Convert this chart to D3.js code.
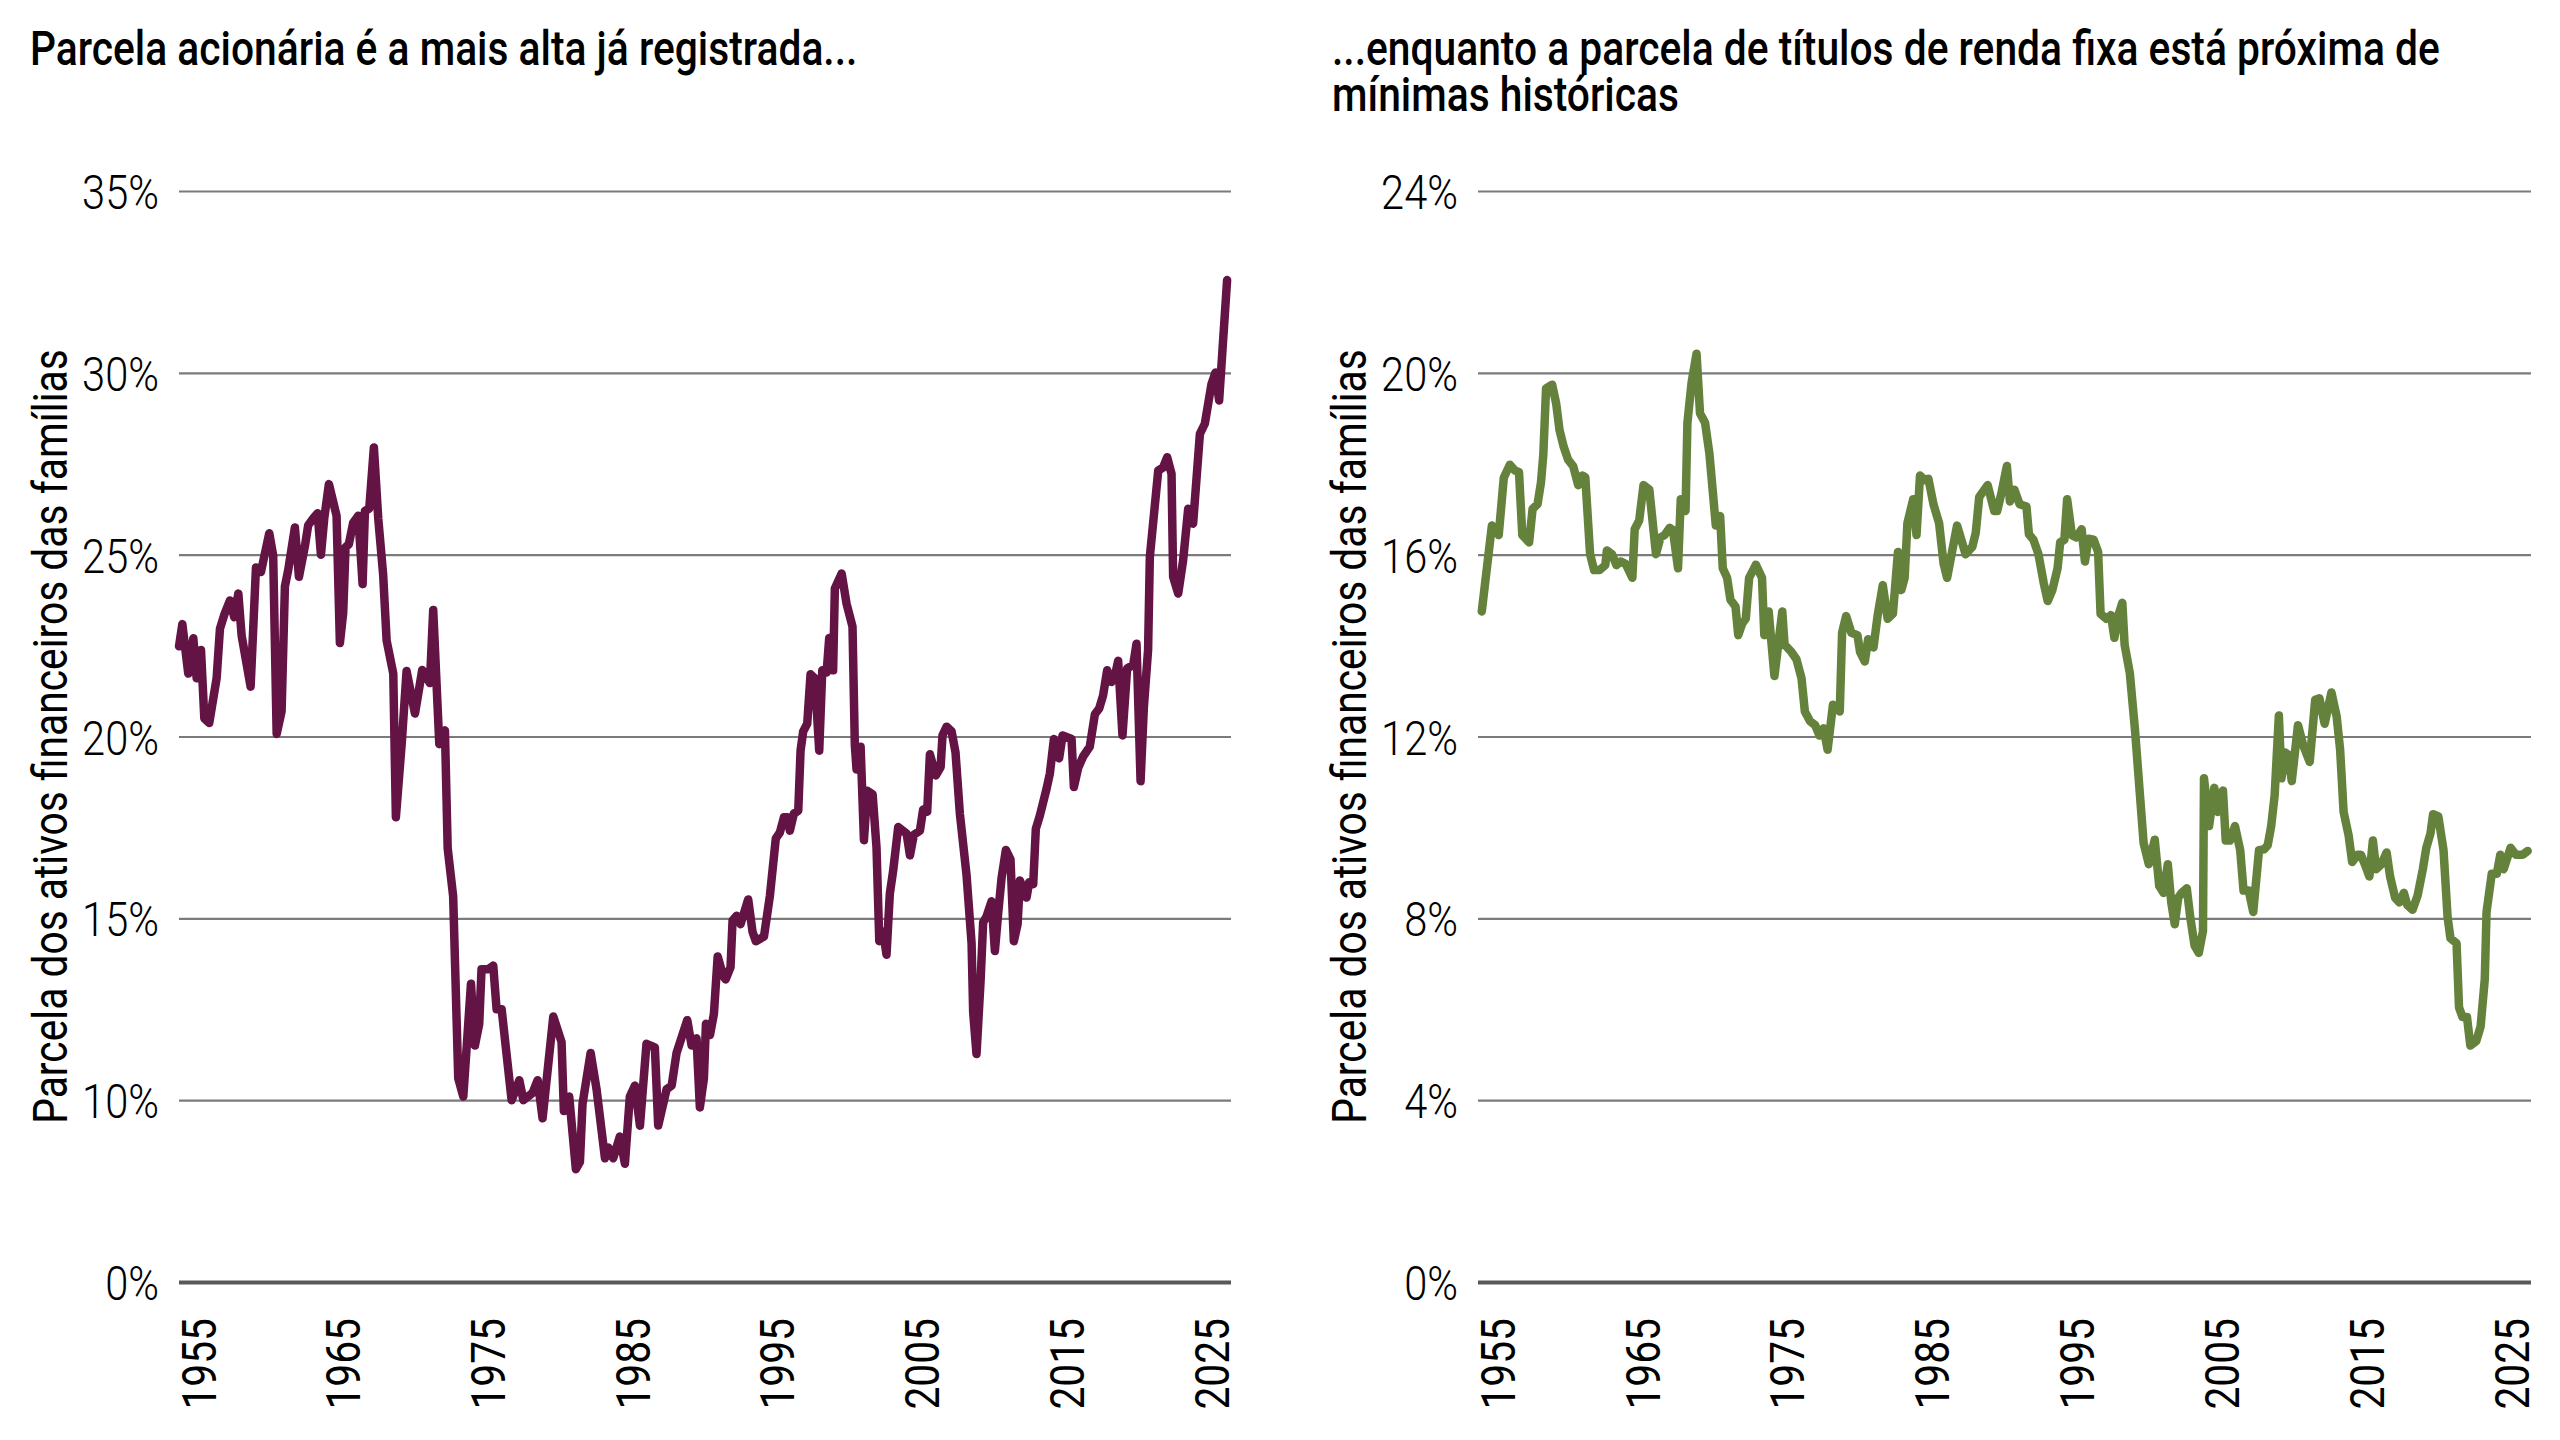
<!DOCTYPE html>
<html>
<head>
<meta charset="utf-8">
<script src="https://cdn.jsdelivr.net/npm/d3@7"></script>
<style>
	html, body { margin: 0; padding: 0; background: #fff; }
</style>
</head>
<body>
<div id="chart"></div>
<script>
// years are read at the chart's own horizontal positions
const eqYears = [
	1953.69, 1953.92, 1954.33, 1954.68, 1954.91, 1955.21, 1955.44, 1955.78, 1956.29, 1956.52,
	1956.82, 1957.21, 1957.51, 1957.79, 1958.02, 1958.64, 1959.01, 1959.35, 1959.93, 1960.2,
	1960.44, 1960.78, 1961.01, 1961.24, 1961.7, 1961.98, 1962.39, 1962.62, 1962.97, 1963.27,
	1963.5, 1963.73, 1964.05, 1964.58, 1964.81, 1965.04, 1965.2, 1965.43, 1965.73, 1966.08,
	1966.38, 1966.54, 1966.84, 1967.16, 1967.46, 1967.8, 1968.04, 1968.5, 1968.68, 1969.08,
	1969.42, 1970.0, 1970.5, 1971.03, 1971.26, 1971.68, 1972.07, 1972.26, 1972.64, 1972.99,
	1973.34, 1973.87, 1974.14, 1974.44, 1974.6, 1975.06, 1975.41, 1975.64, 1975.99, 1976.68,
	1977.21, 1977.49, 1978.13, 1978.48, 1978.82, 1979.56, 1980.13, 1980.29, 1980.66, 1981.12,
	1981.4, 1981.58, 1982.14, 1982.55, 1983.13, 1983.36, 1983.7, 1984.16, 1984.51, 1984.85,
	1985.2, 1985.55, 1986.0, 1986.58, 1986.81, 1987.39, 1987.74, 1988.08, 1988.82, 1989.12,
	1989.46, 1989.69, 1989.97, 1990.11, 1990.39, 1990.66, 1990.92, 1991.3, 1991.47, 1991.81,
	1991.95, 1992.23, 1992.5, 1993.03, 1993.33, 1993.56, 1994.12, 1994.53, 1994.94, 1995.22,
	1995.5, 1995.73, 1995.91, 1996.19, 1996.49, 1996.65, 1996.83, 1997.11, 1997.34, 1997.64,
	1997.94, 1998.15, 1998.45, 1998.63, 1998.9, 1999.02, 1999.49, 1999.83, 2000.24, 2000.4,
	2000.52, 2000.8, 2001.03, 2001.26, 2001.63, 2001.9, 2002.09, 2002.36, 2002.59, 2002.82,
	2003.05, 2003.4, 2003.98, 2004.21, 2004.48, 2004.9, 2005.12, 2005.4, 2005.59, 2006.0,
	2006.33, 2006.46, 2006.74, 2007.09, 2007.36, 2007.66, 2008.12, 2008.47, 2008.58, 2008.81,
	2009.09, 2009.27, 2009.5, 2009.85, 2010.08, 2010.31, 2010.54, 2010.84, 2011.16, 2011.39,
	2011.65, 2011.81, 2012.27, 2012.45, 2012.73, 2012.91, 2013.19, 2013.65, 2013.88, 2014.16,
	2014.52, 2014.76, 2015.38, 2015.54, 2015.84, 2016.18, 2016.64, 2016.99, 2017.29, 2017.56,
	2017.84, 2018.14, 2018.37, 2018.6, 2018.9, 2019.22, 2019.64, 2019.87, 2020.15, 2020.38,
	2020.67, 2020.79, 2021.37, 2021.71, 2021.99, 2022.29, 2022.4, 2022.75, 2023.09, 2023.44,
	2023.78, 2024.25, 2024.59, 2025.05, 2025.33, 2025.58, 2026.13
];
const eqValues = [
	22.48, 23.09, 21.73, 22.7, 21.6, 22.38, 20.5, 20.37, 21.6, 22.96,
	23.35, 23.74, 23.28, 23.93, 22.77, 21.37, 24.65, 24.52, 25.59, 24.97,
	20.07, 20.69, 24.13, 24.58, 25.75, 24.39, 25.23, 25.81, 26.0, 26.14,
	25.0, 26.0, 26.94, 26.07, 22.57, 23.41, 25.2, 25.29, 25.88, 26.07,
	24.19, 26.2, 26.27, 27.95, 26.0, 24.45, 22.64, 21.73, 17.78, 19.79,
	21.8, 20.63, 21.83, 21.47, 23.48, 19.79, 20.17, 16.93, 15.6, 10.6,
	10.1, 13.2, 11.5, 12.1, 13.6, 13.6, 13.7, 12.5, 12.5, 10.0,
	10.55, 10.0, 10.2, 10.55, 9.5, 12.3, 11.6, 9.7, 10.1, 8.1,
	8.3, 9.9, 11.3, 10.3, 8.4, 8.7, 8.4, 9.0, 8.25, 10.1,
	10.4, 9.3, 11.55, 11.45, 9.3, 10.3, 10.4, 11.3, 12.2, 11.5,
	11.7, 9.8, 10.6, 12.1, 11.79, 12.37, 13.95, 13.42, 13.32, 13.66,
	14.94, 15.07, 14.84, 15.52, 14.63, 14.37, 14.5, 15.62, 17.2, 17.36,
	17.78, 17.78, 17.41, 17.88, 17.96, 19.61, 20.14, 20.35, 21.71, 21.6,
	19.61, 21.82, 21.76, 22.71, 21.82, 24.07, 24.48, 23.65, 23.02, 19.77,
	19.09, 19.72, 17.15, 18.51, 18.41, 16.94, 14.37, 14.63, 14.0, 15.68,
	16.31, 17.51, 17.33, 16.73, 17.3, 17.41, 17.99, 17.93, 19.51, 18.93,
	19.16, 20.03, 20.27, 20.14, 19.56, 17.88, 16.2, 14.31, 12.42, 11.27,
	13.26, 14.89, 15.05, 15.47, 14.1, 15.15, 16.1, 16.88, 16.62, 14.37,
	14.84, 16.04, 15.57, 15.99, 15.94, 17.46, 17.83, 18.56, 18.98, 19.93,
	19.4, 20.03, 19.93, 18.61, 19.14, 19.45, 19.72, 20.61, 20.77, 21.13,
	21.82, 21.5, 21.66, 22.08, 20.03, 21.87, 21.97, 22.55, 18.77, 20.82,
	22.39, 24.94, 27.31, 27.4, 27.68, 27.22, 24.39, 23.93, 24.84, 26.26,
	25.85, 28.32, 28.6, 29.69, 30.01, 29.24, 32.55
];

const bondYears = [
	1953.95, 1954.65, 1955.12, 1955.47, 1955.89, 1956.24, 1956.52, 1956.75, 1957.22, 1957.46,
	1957.8, 1958.04, 1958.2, 1958.39, 1958.81, 1959.09, 1959.32, 1959.61, 1959.91, 1960.26,
	1960.61, 1960.91, 1961.1, 1961.43, 1961.71, 1962.08, 1962.48, 1962.59, 1962.94, 1963.25,
	1963.53, 1963.88, 1964.35, 1964.51, 1964.82, 1965.12, 1965.52, 1965.98, 1966.29, 1966.57,
	1966.92, 1967.15, 1967.5, 1967.69, 1968.02, 1968.15, 1968.44, 1968.78, 1969.02, 1969.37,
	1969.67, 1969.95, 1970.11, 1970.41, 1970.59, 1970.89, 1971.12, 1971.47, 1971.66, 1971.94,
	1972.18, 1972.41, 1972.88, 1973.3, 1973.46, 1973.76, 1974.16, 1974.7, 1974.86, 1975.33,
	1975.68, 1976.03, 1976.26, 1976.61, 1976.97, 1977.27, 1977.55, 1977.83, 1978.2, 1978.67,
	1978.83, 1979.11, 1979.47, 1979.89, 1980.07, 1980.4, 1980.63, 1981.0, 1981.28, 1981.64,
	1981.98, 1982.34, 1982.69, 1982.92, 1983.15, 1983.34, 1983.74, 1983.97, 1984.21, 1984.55,
	1984.79, 1985.14, 1985.53, 1985.84, 1986.08, 1986.77, 1987.36, 1987.82, 1988.06, 1988.3,
	1988.88, 1989.34, 1989.54, 1989.85, 1990.21, 1990.42, 1990.73, 1991.09, 1991.56, 1991.73,
	1992.04, 1992.39, 1992.75, 1993.03, 1993.35, 1993.71, 1993.89, 1994.18, 1994.37, 1994.7,
	1995.01, 1995.37, 1995.6, 1995.85, 1996.2, 1996.51, 1996.68, 1997.08, 1997.4, 1997.63,
	1997.94, 1998.18, 1998.34, 1998.7, 1999.06, 1999.41, 1999.65, 2000.01, 2000.42, 2000.73,
	2001.03, 2001.32, 2001.56, 2001.8, 2002.04, 2002.27, 2002.63, 2002.87, 2003.17, 2003.46,
	2003.75, 2003.82, 2004.17, 2004.53, 2004.77, 2005.13, 2005.32, 2005.61, 2005.96, 2006.32,
	2006.55, 2006.91, 2007.22, 2007.62, 2007.98, 2008.22, 2008.46, 2008.7, 2008.99, 2009.17,
	2009.42, 2009.65, 2009.88, 2010.31, 2010.67, 2011.12, 2011.5, 2011.79, 2012.15, 2012.62,
	2012.98, 2013.22, 2013.46, 2013.81, 2014.05, 2014.41, 2014.65, 2015.0, 2015.24, 2015.48,
	2015.71, 2016.07, 2016.43, 2016.67, 2017.02, 2017.31, 2017.62, 2017.86, 2018.22, 2018.57,
	2018.93, 2019.17, 2019.46, 2019.64, 2020.0, 2020.36, 2020.64, 2020.84, 2021.26, 2021.43,
	2021.67, 2021.98, 2022.21, 2022.62, 2022.92, 2023.21, 2023.33, 2023.69, 2024.04, 2024.28,
	2024.51, 2024.99, 2025.35, 2025.82, 2026.17
];
const bondValues = [
	14.75, 16.64, 16.43, 17.69, 17.98, 17.85, 17.82, 16.43, 16.27, 17.01,
	17.11, 17.59, 18.2, 19.66, 19.74, 19.32, 18.74, 18.37, 18.09, 17.95,
	17.53, 17.74, 17.7, 16.01, 15.66, 15.66, 15.77, 16.09, 16.01, 15.77,
	15.85, 15.8, 15.49, 16.56, 16.75, 17.53, 17.43, 16.01, 16.38, 16.43,
	16.59, 16.54, 15.7, 17.22, 16.96, 18.9, 19.79, 20.42, 19.11, 18.9,
	18.22, 17.22, 16.64, 16.85, 15.7, 15.49, 15.01, 14.86, 14.23, 14.49,
	14.59, 15.49, 15.78, 15.49, 14.23, 14.75, 13.33, 14.75, 14.02, 13.86,
	13.7, 13.28, 12.55, 12.34, 12.25, 12.02, 12.18, 11.71, 12.7, 12.55,
	14.28, 14.65, 14.28, 14.23, 13.86, 13.65, 14.14, 13.96, 14.65, 15.33,
	14.59, 14.7, 16.06, 15.22, 15.49, 16.69, 17.22, 16.43, 17.74, 17.64,
	17.67, 17.11, 16.69, 15.8, 15.49, 16.64, 16.01, 16.17, 16.48, 17.27,
	17.53, 16.96, 16.96, 17.38, 17.95, 17.17, 17.43, 17.11, 17.06, 16.45,
	16.33, 16.01, 15.38, 14.98, 15.22, 15.7, 16.27, 16.33, 17.22, 16.43,
	16.38, 16.56, 15.85, 16.35, 16.33, 16.06, 14.7, 14.59, 14.67, 14.17,
	14.7, 14.94, 14.02, 13.39, 12.13, 10.66, 9.66, 9.19, 9.73, 8.71,
	8.56, 9.19, 8.35, 7.87, 8.45, 8.56, 8.66, 8.03, 7.4, 7.24,
	7.72, 11.08, 10.03, 10.87, 10.34, 10.81, 9.71, 9.71, 10.03, 9.5,
	8.61, 8.61, 8.14, 9.5, 9.52, 9.61, 10.03, 10.71, 12.46, 11.08,
	11.65, 11.6, 11.02, 12.25, 11.81, 11.44, 12.81, 12.84, 12.28, 12.97,
	12.44, 11.71, 10.34, 9.82, 9.24, 9.4, 9.4, 9.13, 8.92, 9.71,
	9.08, 9.19, 9.45, 8.92, 8.45, 8.35, 8.56, 8.29, 8.19, 8.5,
	9.08, 9.55, 9.87, 10.29, 10.24, 9.5, 8.03, 7.56, 7.45, 6.04,
	5.83, 5.83, 5.2, 5.3, 5.62, 6.67, 8.14, 8.98, 8.98, 9.4,
	9.08, 9.55, 9.4, 9.4, 9.48
];

const yearTicks     = [1955, 1965, 1975, 1985, 1995, 2005, 2015, 2025];
const eqTicks       = [5, 10, 15, 20, 25, 30, 35];
const eqTickLabels  = ['0%', '10%', '15%', '20%', '25%', '30%', '35%'];
const bondTicks     = [0, 4, 8, 12, 16, 20, 24];
const bondTickLabels = ['0%', '4%', '8%', '12%', '16%', '20%', '24%'];

const eqTitle   = ['Parcela acionária é a mais alta já registrada...'];
const bondTitle = ['...enquanto a parcela de títulos de renda fixa está próxima de', 'mínimas históricas'];
const yLabel    = 'Parcela dos ativos financeiros das famílias';

const W = 2560, H = 1440;
const FONT = 'Roboto, "Liberation Sans", Arial, sans-serif';
const FONT_SIZE = 48;
const plotTop = 191, plotBottom = 1282;
const xDomain = [1953.69, 2026.4];

let svg = d3.select('#chart')
	.append('svg')
	.attr('width', W)
	.attr('height', H);

svg.append('rect').attr('width', W).attr('height', H).attr('fill', '#fff');

// the original uses a condensed face; squeeze Roboto to the same width
let probe = svg.append('text')
	.attr('font-family', FONT)
	.attr('font-size', FONT_SIZE)
	.attr('font-weight', 500)
	.text(bondTitle[0]);
const sx = 1108 / probe.node().getComputedTextLength();
probe.remove();

function drawPanel(cfg){
	let width = cfg.right - cfg.left;

	let x = d3.scaleLinear()
		.domain(xDomain)
		.range([cfg.left, cfg.right]);

	let y = d3.scaleLinear()
		.domain(cfg.yDomain)
		.range([plotBottom, plotTop]);

	let yAxis = d3.axisLeft(y)
		.tickValues(cfg.ticks)
		.tickSize(-width)
		.tickFormat(d => cfg.tickLabels[cfg.ticks.indexOf(d)]);

	let gy = svg.append('g')
		.attr('transform', 'translate(' + cfg.left + ',0)')
		.call(yAxis);

	gy.select('.domain').remove();
	gy.selectAll('.tick line')
		.attr('stroke', d => d === cfg.yDomain[0] ? '#58595b' : '#7b7b7b')
		.attr('stroke-width', d => d === cfg.yDomain[0] ? 4 : 2.2);
	gy.selectAll('.tick text')
		.attr('font-family', FONT)
		.attr('font-size', 49)
		.attr('font-weight', 300)
		.attr('fill', '#000')
		.attr('x', -20 / sx)
		.attr('dy', '0.36em')
		.attr('transform', 'scale(' + sx + ',1)');

	let xAxis = d3.axisBottom(x)
		.tickValues(yearTicks)
		.tickSize(0)
		.tickFormat(d3.format('d'));

	let gx = svg.append('g')
		.attr('transform', 'translate(0,' + plotBottom + ')')
		.call(xAxis);

	gx.select('.domain').remove();
	gx.selectAll('.tick text')
		.attr('font-family', FONT)
		.attr('font-size', FONT_SIZE)
		.attr('fill', '#000')
		.attr('text-anchor', 'end')
		.attr('x', -36 / sx)
		.attr('y', 0)
		.attr('dy', '0.36em')
		.attr('transform', 'rotate(-90) scale(' + sx + ',1)');

	let line = d3.line()
		.x(d => x(d[0]))
		.y(d => y(d[1]));

	svg.append('path')
		.datum(d3.zip(cfg.years, cfg.values))
		.attr('fill', 'none')
		.attr('stroke', cfg.color)
		.attr('stroke-width', 8.5)
		.attr('stroke-linejoin', 'round')
		.attr('stroke-linecap', 'round')
		.attr('d', line);

	let title = svg.append('text')
		.attr('font-family', FONT)
		.attr('font-size', FONT_SIZE)
		.attr('font-weight', 500)
		.attr('fill', '#000')
		.attr('transform', 'translate(' + cfg.titleX + ',65) scale(' + sx + ',1)');

	title.selectAll('tspan')
		.data(cfg.title)
		.enter()
		.append('tspan')
		.attr('x', 0)
		.attr('y', (d, i) => i * 46)
		.text(d => d);

	svg.append('text')
		.attr('font-family', FONT)
		.attr('font-size', FONT_SIZE)
		.attr('fill', '#000')
		.attr('text-anchor', 'middle')
		.attr('transform', 'translate(' + (cfg.left - 112) + ',' + ((plotTop + plotBottom) / 2) + ') rotate(-90) scale(' + sx + ',1)')
		.text(yLabel);
}

drawPanel({
	left: 179, right: 1231,
	yDomain: [5, 35],
	ticks: eqTicks, tickLabels: eqTickLabels,
	years: eqYears, values: eqValues,
	color: '#641345',
	title: eqTitle, titleX: 30
});

drawPanel({
	left: 1478, right: 2531,
	yDomain: [0, 24],
	ticks: bondTicks, tickLabels: bondTickLabels,
	years: bondYears, values: bondValues,
	color: '#64823c',
	title: bondTitle, titleX: 1332
});
</script>
</body>
</html>
